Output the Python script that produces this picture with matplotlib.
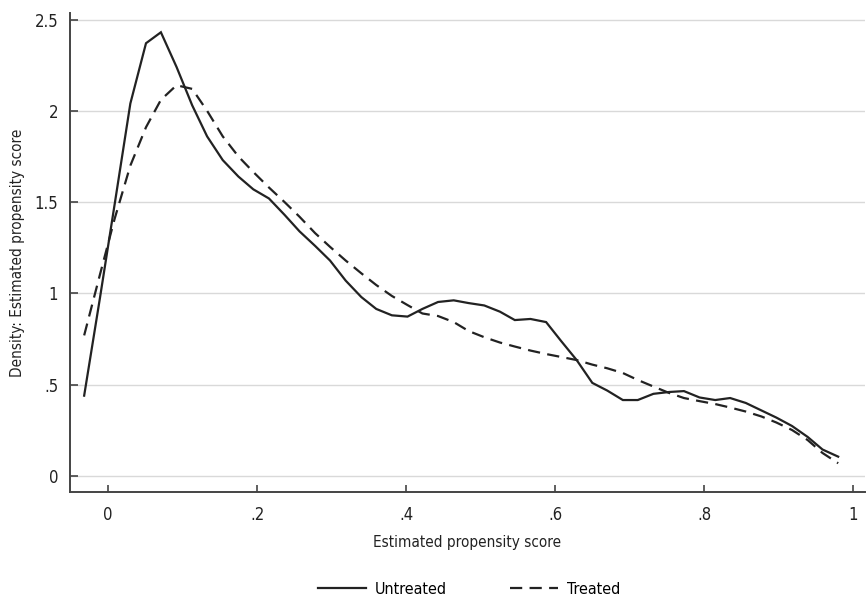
import numpy as np
import matplotlib
matplotlib.use('Agg')
import matplotlib.pyplot as plt
from matplotlib import font_manager


# kernel density evaluation points
score = [-0.032, -0.011, 0.009, 0.030, 0.051, 0.071, 0.092, 0.113, 0.133, 0.154,
         0.175, 0.195, 0.216, 0.237, 0.257, 0.278, 0.298, 0.319, 0.340, 0.360,
         0.381, 0.402, 0.422, 0.443, 0.464, 0.484, 0.505, 0.526, 0.546, 0.567,
         0.588, 0.608, 0.629, 0.650, 0.670, 0.691, 0.711, 0.732, 0.753, 0.773,
         0.794, 0.815, 0.835, 0.856, 0.877, 0.897, 0.918, 0.939, 0.959, 0.980]

untreated = [0.44, 0.97, 1.49, 2.04, 2.37, 2.43, 2.24, 2.03, 1.86, 1.73,
             1.64, 1.57, 1.52, 1.43, 1.34, 1.26, 1.18, 1.07, 0.98, 0.915,
             0.88, 0.873, 0.915, 0.953, 0.962, 0.947, 0.934, 0.90, 0.854, 0.86,
             0.843, 0.74, 0.635, 0.51, 0.468, 0.416, 0.416, 0.45, 0.46, 0.465,
             0.43, 0.416, 0.427, 0.40, 0.359, 0.32, 0.274, 0.214, 0.145, 0.106]

treated = [0.77, 1.10, 1.41, 1.70, 1.91, 2.06, 2.14, 2.12, 2.00, 1.86,
           1.75, 1.665, 1.58, 1.50, 1.42, 1.33, 1.255, 1.18, 1.11, 1.046,
           0.986, 0.936, 0.89, 0.876, 0.843, 0.794, 0.76, 0.731, 0.709, 0.687,
           0.668, 0.652, 0.635, 0.61, 0.59, 0.564, 0.526, 0.49, 0.455, 0.427,
           0.41, 0.394, 0.375, 0.353, 0.326, 0.293, 0.252, 0.197, 0.126, 0.07]

xticks = [0, 0.2, 0.4, 0.6, 0.8, 1]
xtick_labels = ['0', '.2', '.4', '.6', '.8', '1']
yticks = [0, 0.5, 1, 1.5, 2, 2.5]
ytick_labels = ['0', '.5', '1', '1.5', '2', '2.5']

# original is set in a condensed face -> use DejaVu Sans Condensed if it is there
has_condensed = any('DejaVuSansCondensed.ttf' in f.fname
                    for f in font_manager.fontManager.ttflist)
plt.rcParams['font.family'] = ['DejaVu Sans']
if has_condensed:
    plt.rcParams['font.stretch'] = 'condensed'

LINE_COLOR = '#222222'
AXIS_COLOR = '#444444'

fig = plt.figure(figsize=(8.67, 6.02), dpi=100)
ax = fig.add_axes([70 / 867, 110 / 602, 795 / 867, 479 / 602])

h1, = ax.plot(score, untreated, '-', color=LINE_COLOR, lw=1.6,
              solid_joinstyle='miter')
h2, = ax.plot(score, treated, '--', color=LINE_COLOR, lw=1.6,
              dashes=(5.5, 3.3))

ax.set_xlim(-0.051, 1.016)
ax.set_ylim(-0.0876, 2.5356)

ax.set_xticks(xticks)
ax.set_xticklabels(xtick_labels)
ax.set_yticks(yticks)
ax.set_yticklabels(ytick_labels)

ax.yaxis.grid(True, color='#d9d9d9', lw=1.0)
ax.set_axisbelow(True)

for side in ['top', 'right']:
    ax.spines[side].set_visible(False)
for side in ['left', 'bottom']:
    ax.spines[side].set_color(AXIS_COLOR)
    ax.spines[side].set_linewidth(1.4)

ax.tick_params(axis='both', direction='in', color=AXIS_COLOR, width=1.2,
               labelsize=12, labelcolor='#222222')
ax.tick_params(axis='y', length=6, pad=8.5)
ax.tick_params(axis='x', length=5, pad=10)

ax.set_xlabel('Estimated propensity score', fontsize=11, color='#222222',
              labelpad=8)
ax.set_ylabel('Density: Estimated propensity score', fontsize=11,
              color='#222222')
ax.yaxis.set_label_coords(-45 / 795, 0.5)

fig.legend([h1, h2], ['Untreated', 'Treated'], loc='center',
           bbox_to_anchor=(469 / 867, 1 - 589 / 602), ncol=2, frameon=False,
           fontsize=11.5, handlelength=3.0, columnspacing=4.0,
           handletextpad=0.55)

fig.savefig('out.png', dpi=100)
